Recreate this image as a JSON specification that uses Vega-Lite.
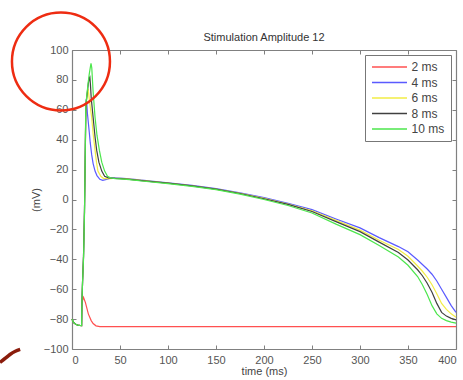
{
  "$schema": "https://vega.github.io/schema/vega-lite/v6.json",
  "autosize": "none",
  "width": 384,
  "height": 299,
  "padding": {"left": 72, "top": 50, "right": 7, "bottom": 31},
  "background": "white",
  "title": {"text": "Stimulation Amplitude 12", "font": "Liberation Sans", "fontSize": 11, "fontWeight": "normal", "color": "#333333", "offset": -35},
  "config": {
    "view": {"stroke": null},
    "axis": {"labelFont": "Liberation Sans", "titleFont": "Liberation Sans", "labelFontSize": 11, "titleFontSize": 11, "titleFontWeight": "normal", "labelColor": "#555555", "titleColor": "#444444", "domainColor": "#808080", "domainWidth": 1.2, "tickColor": "#808080", "tickSize": -4, "grid": false},
    "legend": {"orient": "top-right", "offset": 5, "symbolType": "M-1,0H6", "symbolSize": 100, "symbolStrokeWidth": 1.5, "labelFont": "Liberation Sans", "labelFontSize": 12, "labelColor": "#444444", "strokeColor": "#777777", "fillColor": "white", "padding": 6, "rowPadding": 3.5, "labelOffset": 28.5}
  },
  "datasets": {
    "v": [
      {"s": "2 ms", "t": 0, "v": -80}, {"s": "2 ms", "t": 1, "v": -81.5}, {"s": "2 ms", "t": 2, "v": -82.5}, {"s": "2 ms", "t": 4, "v": -83.5}, {"s": "2 ms", "t": 6, "v": -84}, {"s": "2 ms", "t": 8, "v": -84.2}, {"s": "2 ms", "t": 10, "v": -84.3},
      {"s": "2 ms", "t": 10.2, "v": -72}, {"s": "2 ms", "t": 11, "v": -67.5}, {"s": "2 ms", "t": 12, "v": -65.5}, {"s": "2 ms", "t": 14, "v": -69}, {"s": "2 ms", "t": 17, "v": -76.5}, {"s": "2 ms", "t": 20, "v": -81}, {"s": "2 ms", "t": 22, "v": -83}, {"s": "2 ms", "t": 25, "v": -84.5}, {"s": "2 ms", "t": 29, "v": -85}, {"s": "2 ms", "t": 400, "v": -85},

      {"s": "4 ms", "t": 0, "v": -80}, {"s": "4 ms", "t": 1, "v": -81.5}, {"s": "4 ms", "t": 2, "v": -82.5}, {"s": "4 ms", "t": 4, "v": -83.5}, {"s": "4 ms", "t": 6, "v": -84}, {"s": "4 ms", "t": 8, "v": -84.2}, {"s": "4 ms", "t": 10, "v": -84.3},
      {"s": "4 ms", "t": 10.3, "v": -70}, {"s": "4 ms", "t": 11, "v": -55}, {"s": "4 ms", "t": 12, "v": -38}, {"s": "4 ms", "t": 13, "v": -8}, {"s": "4 ms", "t": 13.8, "v": 30}, {"s": "4 ms", "t": 14.4, "v": 60}, {"s": "4 ms", "t": 14.8, "v": 67}, {"s": "4 ms", "t": 15.4, "v": 64}, {"s": "4 ms", "t": 16, "v": 58}, {"s": "4 ms", "t": 18, "v": 45}, {"s": "4 ms", "t": 19, "v": 38}, {"s": "4 ms", "t": 20.5, "v": 30}, {"s": "4 ms", "t": 22, "v": 24}, {"s": "4 ms", "t": 24, "v": 19}, {"s": "4 ms", "t": 26, "v": 16}, {"s": "4 ms", "t": 29, "v": 13.5}, {"s": "4 ms", "t": 32, "v": 12.8}, {"s": "4 ms", "t": 36, "v": 13.5}, {"s": "4 ms", "t": 40, "v": 14.3}, {"s": "4 ms", "t": 45, "v": 14.5}, {"s": "4 ms", "t": 50, "v": 14.3},
      {"s": "4 ms", "t": 60, "v": 13.8}, {"s": "4 ms", "t": 75, "v": 12.8}, {"s": "4 ms", "t": 100, "v": 11.2}, {"s": "4 ms", "t": 125, "v": 9.4}, {"s": "4 ms", "t": 150, "v": 7.3}, {"s": "4 ms", "t": 175, "v": 4.5}, {"s": "4 ms", "t": 200, "v": 1.2}, {"s": "4 ms", "t": 225, "v": -2.5}, {"s": "4 ms", "t": 250, "v": -6.8}, {"s": "4 ms", "t": 275, "v": -13}, {"s": "4 ms", "t": 300, "v": -19}, {"s": "4 ms", "t": 320, "v": -25.5}, {"s": "4 ms", "t": 340, "v": -31.5}, {"s": "4 ms", "t": 350, "v": -35}, {"s": "4 ms", "t": 360, "v": -40.5}, {"s": "4 ms", "t": 365, "v": -43.5}, {"s": "4 ms", "t": 370, "v": -46.5}, {"s": "4 ms", "t": 375, "v": -50}, {"s": "4 ms", "t": 380, "v": -54.5}, {"s": "4 ms", "t": 385, "v": -60}, {"s": "4 ms", "t": 390, "v": -65.5}, {"s": "4 ms", "t": 395, "v": -71}, {"s": "4 ms", "t": 400, "v": -75.5},

      {"s": "6 ms", "t": 0, "v": -80}, {"s": "6 ms", "t": 1, "v": -81.5}, {"s": "6 ms", "t": 2, "v": -82.5}, {"s": "6 ms", "t": 4, "v": -83.5}, {"s": "6 ms", "t": 6, "v": -84}, {"s": "6 ms", "t": 8, "v": -84.2}, {"s": "6 ms", "t": 10, "v": -84.3},
      {"s": "6 ms", "t": 10.3, "v": -70}, {"s": "6 ms", "t": 11, "v": -55}, {"s": "6 ms", "t": 12, "v": -38}, {"s": "6 ms", "t": 13, "v": -8}, {"s": "6 ms", "t": 13.8, "v": 30}, {"s": "6 ms", "t": 14.4, "v": 60}, {"s": "6 ms", "t": 15, "v": 66}, {"s": "6 ms", "t": 16, "v": 71}, {"s": "6 ms", "t": 16.8, "v": 74}, {"s": "6 ms", "t": 17.5, "v": 70}, {"s": "6 ms", "t": 19, "v": 62}, {"s": "6 ms", "t": 20.5, "v": 55}, {"s": "6 ms", "t": 22, "v": 44}, {"s": "6 ms", "t": 24, "v": 33}, {"s": "6 ms", "t": 25.5, "v": 25}, {"s": "6 ms", "t": 27, "v": 19}, {"s": "6 ms", "t": 30, "v": 15.5}, {"s": "6 ms", "t": 33, "v": 14}, {"s": "6 ms", "t": 40, "v": 14}, {"s": "6 ms", "t": 45, "v": 14.2}, {"s": "6 ms", "t": 50, "v": 14.1},
      {"s": "6 ms", "t": 60, "v": 13.6}, {"s": "6 ms", "t": 75, "v": 12.6}, {"s": "6 ms", "t": 100, "v": 11}, {"s": "6 ms", "t": 125, "v": 9.2}, {"s": "6 ms", "t": 150, "v": 7}, {"s": "6 ms", "t": 175, "v": 4.2}, {"s": "6 ms", "t": 200, "v": 0.8}, {"s": "6 ms", "t": 225, "v": -3}, {"s": "6 ms", "t": 250, "v": -7.5}, {"s": "6 ms", "t": 275, "v": -14}, {"s": "6 ms", "t": 300, "v": -20.5}, {"s": "6 ms", "t": 320, "v": -27.3}, {"s": "6 ms", "t": 340, "v": -33.5}, {"s": "6 ms", "t": 350, "v": -38}, {"s": "6 ms", "t": 360, "v": -44.5}, {"s": "6 ms", "t": 365, "v": -48}, {"s": "6 ms", "t": 370, "v": -52}, {"s": "6 ms", "t": 375, "v": -57}, {"s": "6 ms", "t": 380, "v": -63}, {"s": "6 ms", "t": 385, "v": -69.5}, {"s": "6 ms", "t": 390, "v": -73.5}, {"s": "6 ms", "t": 395, "v": -76.5}, {"s": "6 ms", "t": 400, "v": -78.7},

      {"s": "8 ms", "t": 0, "v": -80}, {"s": "8 ms", "t": 1, "v": -81.5}, {"s": "8 ms", "t": 2, "v": -82.5}, {"s": "8 ms", "t": 4, "v": -83.5}, {"s": "8 ms", "t": 6, "v": -84}, {"s": "8 ms", "t": 8, "v": -84.2}, {"s": "8 ms", "t": 10, "v": -84.3},
      {"s": "8 ms", "t": 10.3, "v": -70}, {"s": "8 ms", "t": 11, "v": -55}, {"s": "8 ms", "t": 12, "v": -38}, {"s": "8 ms", "t": 13, "v": -8}, {"s": "8 ms", "t": 13.8, "v": 30}, {"s": "8 ms", "t": 14.4, "v": 61}, {"s": "8 ms", "t": 15, "v": 66}, {"s": "8 ms", "t": 16, "v": 72}, {"s": "8 ms", "t": 17, "v": 77.5}, {"s": "8 ms", "t": 18, "v": 81.5}, {"s": "8 ms", "t": 18.6, "v": 82}, {"s": "8 ms", "t": 19.2, "v": 77}, {"s": "8 ms", "t": 20, "v": 68}, {"s": "8 ms", "t": 22, "v": 55}, {"s": "8 ms", "t": 24, "v": 42}, {"s": "8 ms", "t": 25.7, "v": 33}, {"s": "8 ms", "t": 28, "v": 25}, {"s": "8 ms", "t": 31, "v": 19}, {"s": "8 ms", "t": 34, "v": 15.5}, {"s": "8 ms", "t": 38, "v": 14.5}, {"s": "8 ms", "t": 45, "v": 14.1}, {"s": "8 ms", "t": 50, "v": 14},
      {"s": "8 ms", "t": 60, "v": 13.5}, {"s": "8 ms", "t": 75, "v": 12.5}, {"s": "8 ms", "t": 100, "v": 10.9}, {"s": "8 ms", "t": 125, "v": 9.1}, {"s": "8 ms", "t": 150, "v": 6.9}, {"s": "8 ms", "t": 175, "v": 4}, {"s": "8 ms", "t": 200, "v": 0.5}, {"s": "8 ms", "t": 225, "v": -3.3}, {"s": "8 ms", "t": 250, "v": -8}, {"s": "8 ms", "t": 275, "v": -14.8}, {"s": "8 ms", "t": 300, "v": -21.5}, {"s": "8 ms", "t": 320, "v": -28.5}, {"s": "8 ms", "t": 340, "v": -35.5}, {"s": "8 ms", "t": 350, "v": -40.5}, {"s": "8 ms", "t": 360, "v": -47}, {"s": "8 ms", "t": 365, "v": -51}, {"s": "8 ms", "t": 370, "v": -56}, {"s": "8 ms", "t": 375, "v": -62}, {"s": "8 ms", "t": 380, "v": -69.5}, {"s": "8 ms", "t": 385, "v": -75.5}, {"s": "8 ms", "t": 390, "v": -78}, {"s": "8 ms", "t": 395, "v": -79.5}, {"s": "8 ms", "t": 400, "v": -80.5},

      {"s": "10 ms", "t": 0, "v": -80}, {"s": "10 ms", "t": 1, "v": -81.5}, {"s": "10 ms", "t": 2, "v": -82.5}, {"s": "10 ms", "t": 4, "v": -83.5}, {"s": "10 ms", "t": 6, "v": -84}, {"s": "10 ms", "t": 8, "v": -84.2}, {"s": "10 ms", "t": 10, "v": -84.3},
      {"s": "10 ms", "t": 10.3, "v": -70}, {"s": "10 ms", "t": 11, "v": -55}, {"s": "10 ms", "t": 12, "v": -40}, {"s": "10 ms", "t": 13, "v": -10}, {"s": "10 ms", "t": 13.8, "v": 30}, {"s": "10 ms", "t": 14.3, "v": 62}, {"s": "10 ms", "t": 15, "v": 67}, {"s": "10 ms", "t": 16, "v": 73}, {"s": "10 ms", "t": 17, "v": 79}, {"s": "10 ms", "t": 18, "v": 84}, {"s": "10 ms", "t": 19, "v": 88}, {"s": "10 ms", "t": 19.8, "v": 91}, {"s": "10 ms", "t": 20.6, "v": 88}, {"s": "10 ms", "t": 22, "v": 72}, {"s": "10 ms", "t": 24, "v": 55}, {"s": "10 ms", "t": 26, "v": 43}, {"s": "10 ms", "t": 28.5, "v": 33}, {"s": "10 ms", "t": 31, "v": 25}, {"s": "10 ms", "t": 34, "v": 19}, {"s": "10 ms", "t": 37, "v": 15.5}, {"s": "10 ms", "t": 40, "v": 14.5}, {"s": "10 ms", "t": 45, "v": 14}, {"s": "10 ms", "t": 50, "v": 13.8},
      {"s": "10 ms", "t": 60, "v": 13.3}, {"s": "10 ms", "t": 75, "v": 12.2}, {"s": "10 ms", "t": 100, "v": 10.6}, {"s": "10 ms", "t": 125, "v": 8.8}, {"s": "10 ms", "t": 150, "v": 6.6}, {"s": "10 ms", "t": 175, "v": 3.6}, {"s": "10 ms", "t": 200, "v": 0}, {"s": "10 ms", "t": 225, "v": -4}, {"s": "10 ms", "t": 250, "v": -9}, {"s": "10 ms", "t": 275, "v": -16.5}, {"s": "10 ms", "t": 300, "v": -23.5}, {"s": "10 ms", "t": 320, "v": -30.8}, {"s": "10 ms", "t": 340, "v": -38.5}, {"s": "10 ms", "t": 350, "v": -44}, {"s": "10 ms", "t": 360, "v": -51.5}, {"s": "10 ms", "t": 365, "v": -57}, {"s": "10 ms", "t": 370, "v": -63.5}, {"s": "10 ms", "t": 375, "v": -71}, {"s": "10 ms", "t": 380, "v": -76.5}, {"s": "10 ms", "t": 385, "v": -79.5}, {"s": "10 ms", "t": 390, "v": -81}, {"s": "10 ms", "t": 395, "v": -82}, {"s": "10 ms", "t": 400, "v": -82.7}
    ],
    "circ": [{"x": -11.5, "y": 92.3}],
    "scrib": [{"x": -75, "y": -109}, {"x": -69, "y": -106}, {"x": -64.6, "y": -103.7}, {"x": -59, "y": -101.5}, {"x": -54, "y": -100.3}]
  },
  "layer": [
    {
      "data": {"name": "v"},
      "mark": {"type": "line", "strokeWidth": 1.2},
      "encoding": {
        "x": {"field": "t", "type": "quantitative", "scale": {"domain": [0, 400], "nice": false}, "axis": {"orient": "bottom", "values": [0, 50, 100, 150, 200, 250, 300, 350, 400], "title": "time (ms)", "labelPadding": 9, "titlePadding": 0}},
        "y": {"field": "v", "type": "quantitative", "scale": {"domain": [-100, 100], "nice": false}, "axis": {"orient": "left", "values": [-100, -80, -60, -40, -20, 0, 20, 40, 60, 80, 100], "title": "(mV)", "labelPadding": 8, "titlePadding": 2}},
        "color": {"field": "s", "type": "nominal", "sort": ["2 ms", "4 ms", "6 ms", "8 ms", "10 ms"], "scale": {"domain": ["2 ms", "4 ms", "6 ms", "8 ms", "10 ms"], "range": ["#ff5050", "#5a5aff", "#f2ec45", "#404040", "#4ce64c"]}, "legend": {"title": null}}
      }
    },
    {
      "data": {"name": "v"},
      "mark": {"type": "line", "opacity": 0},
      "encoding": {
        "x": {"field": "t", "type": "quantitative", "scale": {"domain": [0, 400], "nice": false}, "axis": {"orient": "top", "values": [0, 50, 100, 150, 200, 250, 300, 350, 400], "labels": false, "title": null}},
        "y": {"field": "v", "type": "quantitative", "scale": {"domain": [-100, 100], "nice": false}, "axis": {"orient": "right", "values": [-100, -80, -60, -40, -20, 0, 20, 40, 60, 80, 100], "labels": false, "title": null}},
        "detail": {"field": "s", "type": "nominal"}
      }
    },
    {
      "data": {"name": "circ"},
      "mark": {"type": "point", "shape": "circle", "filled": false, "size": 9604, "strokeWidth": 2.5, "color": "#ee2c12", "opacity": 1},
      "encoding": {
        "x": {"field": "x", "type": "quantitative", "scale": {"domain": [0, 400], "nice": false}, "axis": null},
        "y": {"field": "y", "type": "quantitative", "scale": {"domain": [-100, 100], "nice": false}, "axis": null}
      }
    },
    {
      "data": {"name": "scrib"},
      "mark": {"type": "line", "color": "#8a1c0c", "strokeWidth": 3.5, "interpolate": "monotone"},
      "encoding": {
        "x": {"field": "x", "type": "quantitative", "scale": {"domain": [0, 400], "nice": false}, "axis": null},
        "y": {"field": "y", "type": "quantitative", "scale": {"domain": [-100, 100], "nice": false}, "axis": null}
      }
    }
  ],
  "resolve": {"axis": {"x": "independent", "y": "independent"}}
}
